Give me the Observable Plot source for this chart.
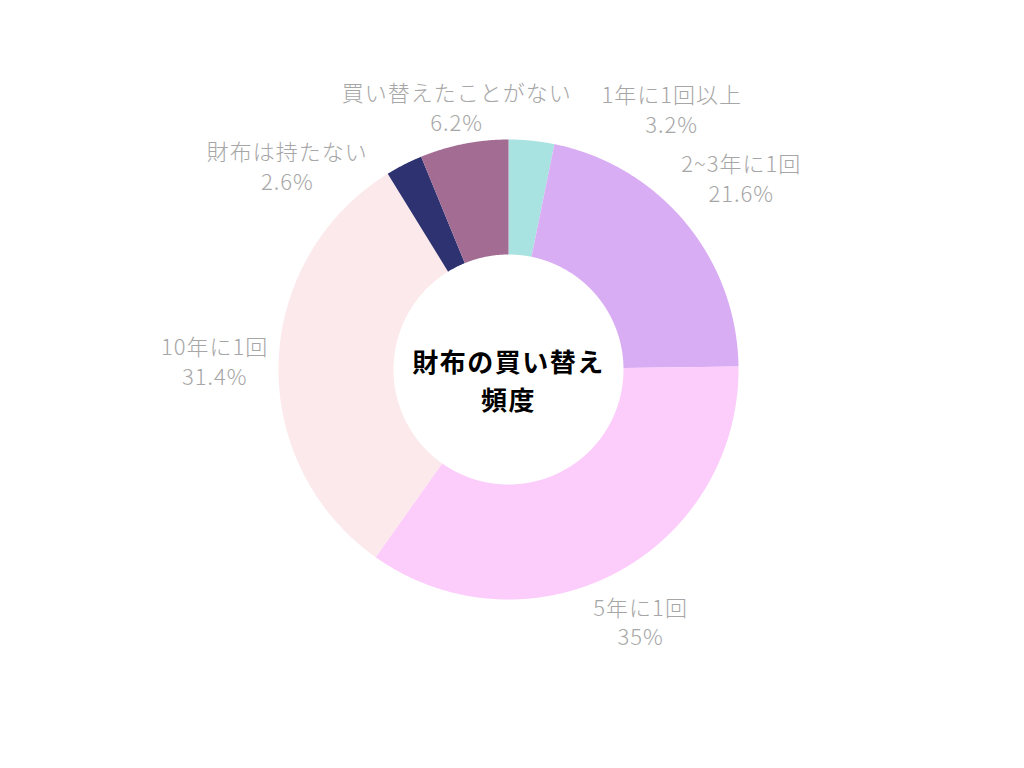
<!DOCTYPE html>
<html>
<head>
<meta charset="utf-8">
<script src="https://cdn.jsdelivr.net/npm/d3@7"></script>
<script src="https://cdn.jsdelivr.net/npm/@observablehq/plot@0.6"></script>
<style>
  html, body { margin: 0; padding: 0; background: #fff; }
  #chart { width: 1024px; height: 768px; }
  .slice-label text { letter-spacing: 1px; }
  .center-title text { letter-spacing: 1.5px; }
</style>
</head>
<body>
<div id="chart"></div>
<script>
// ---- data ----
const categories = ["1年に1回以上", "2~3年に1回", "5年に1回", "10年に1回", "財布は持たない", "買い替えたことがない"];
const shares = [3.2, 21.6, 35, 31.4, 2.6, 6.2];
const colors = ["#a9e3e1", "#d9adf3", "#fccdfb", "#fce9ec", "#2e3270", "#a36c92"];
const centerTitle = "財布の買い替え\n頻度";

// ---- layout (pixels, in the plot's own units) ----
const R_OUT = 230, R_IN = 115;
// label placement: angle in degrees clockwise from 12 o'clock (null = slice middle), distance from centre
const labelLayout = {
  "1年に1回以上": {angle: 32, r: 308},
  "2~3年に1回": {angle: null, r: 302},
  "5年に1回": {angle: null, r: 284},
  "10年に1回": {angle: null, r: 294},
  "財布は持たない": {angle: 312.7, r: 301},
  "買い替えたことがない": {angle: null, r: 268}
};

const total = d3.sum(shares);
let acc = 0;
const slices = categories.map((name, i) => {
  const a0 = acc / total * 2 * Math.PI;
  acc += shares[i];
  const a1 = acc / total * 2 * Math.PI;
  return {name, value: shares[i], a0, a1};
});

// polygon points of each annular sector
const pts = [];
for (const s of slices) {
  const n = Math.max(2, Math.ceil((s.a1 - s.a0) / (Math.PI / 720)));
  for (let k = 0; k <= n; k++) {
    const a = s.a0 + (s.a1 - s.a0) * k / n;
    pts.push({name: s.name, x: R_OUT * Math.sin(a), y: R_OUT * Math.cos(a)});
  }
  for (let k = n; k >= 0; k--) {
    const a = s.a0 + (s.a1 - s.a0) * k / n;
    pts.push({name: s.name, x: R_IN * Math.sin(a), y: R_IN * Math.cos(a)});
  }
}

const labels = slices.map(s => {
  const L = labelLayout[s.name];
  const a = L.angle == null ? (s.a0 + s.a1) / 2 : L.angle * Math.PI / 180;
  return {text: `${s.name}\n${s.value}%`, x: L.r * Math.sin(a), y: L.r * Math.cos(a)};
});

const chart = Plot.plot({
  width: 1024,
  height: 768,
  margin: 0,
  x: {domain: [-508, 516], axis: null},
  y: {domain: [-399, 369], axis: null},
  color: {domain: categories, range: colors},
  style: {fontFamily: "'Noto Sans CJK JP', 'Noto Sans', sans-serif", background: "#fff"},
  marks: [
    Plot.line(pts, {x: "x", y: "y", z: "name", fill: "name", stroke: "none", curve: "linear"}),
    Plot.text(labels, {
      x: "x", y: "y", text: "text", className: "slice-label",
      fontSize: 22, fontWeight: 300, fill: "#a6a6a6",
      lineHeight: 1.36, textAnchor: "middle", lineAnchor: "middle"
    }),
    Plot.text([centerTitle], {
      x: () => 0, y: () => 0, text: d => d, dy: 9, className: "center-title",
      fontSize: 26, fontWeight: 700, fill: "#000",
      lineHeight: 1.46, textAnchor: "middle", lineAnchor: "middle"
    })
  ]
});
document.getElementById("chart").appendChild(chart);
</script>
</body>
</html>
